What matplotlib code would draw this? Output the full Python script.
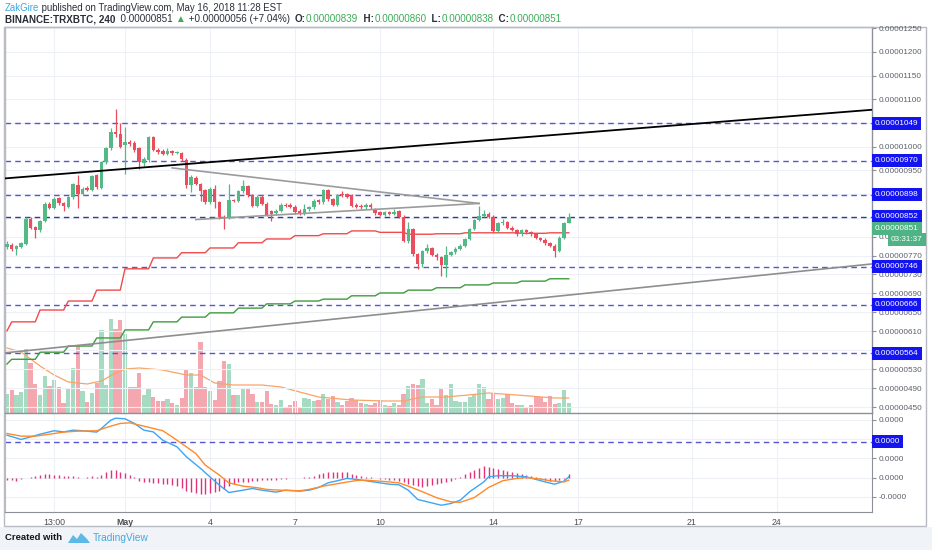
import numpy as np
import pandas as pd
import matplotlib
matplotlib.use("Agg")
import matplotlib.pyplot as plt
import matplotlib.dates as mdates
import matplotlib.transforms as mtransforms
from matplotlib.patches import Polygon, Rectangle

# ---------------- data (prices in satoshi, 1 sat = 1e-8 BTC) ----------------
candle_start = "2018-04-26 20:00"   # 4h candles
opens = [787,793,784,787,794,847,830,823,842,879, 871,891,880,873,893,918,900,913,909,939,
         913,967,996,1030,1027,1003,1010,1008,996,965, 972,1020,993,991,985,991,987,986,972,918,
         934,921,908,882,911,882,851,851,887,885, 906,916,897,875,894,879,863,859,865,877,
         877,873,865,859,868,872,887,882,908,889, 877,899,899,897,877,875,872,877,868,861,
         856,861,858,863,852,801,826,773,752,779, 786,772,766,750,772,777,784,791,805,826,
         845,854,858,852,822,838,840,829,824,815, 824,819,815,807,803,796,791,780,808,839]
closes = [794,784,790,796,847,828,824,842,879,871, 890,880,875,893,920,900,911,909,937,914,
          967,996,1031,1026,1000,1010,1006,992,967,974, 1020,993,989,985,991,986,988,974,918,936,
          921,907,882,911,882,851,850,887,885,906, 916,897,875,894,879,856,858,865,877,875,
          873,861,859,868,872,886,882,908,889,877, 897,897,894,875,873,872,877,872,859,856,
          861,858,862,852,801,826,773,752,779,786, 772,766,750,772,777,784,791,805,826,845,
          854,858,852,822,838,840,829,824,815,824, 819,815,807,803,796,791,780,808,838,851]
highs = [801,796,793,799,851,852,833,845,882,884, 893,894,883,896,923,941,914,916,940,942,
         970,999,1040,1080,1049,1042,1014,1011,999,978, 1023,1022,996,994,998,993,990,988,975,939,
         937,924,910,914,918,885,855,921,890,909, 930,919,900,897,897,882,866,868,880,880,
         880,876,868,878,875,889,890,911,911,892, 900,906,902,900,880,878,880,880,871,864,
         864,864,868,866,855,840,829,776,782,795, 789,775,769,790,780,787,794,808,829,848,
         875,866,861,855,841,848,843,832,827,827, 827,822,818,810,806,799,794,811,841,860]
lows = [784,780,772,785,792,825,808,820,840,868, 869,877,865,870,890,871,897,906,906,911,
        910,964,993,1020,996,943,1002,988,953,960, 968,990,985,982,983,983,984,970,912,905,
        918,886,878,879,870,847,826,848,882,882, 903,894,872,872,876,853,842,856,862,872,
        870,858,856,856,865,869,879,879,886,874, 874,894,891,872,870,869,869,869,856,853,
        853,855,855,849,798,797,768,741,745,776, 769,760,727,725,769,774,781,788,802,823,
        842,851,849,819,819,835,826,821,812,812, 816,812,804,800,793,788,766,777,805,838]
volumes = [19,23,18,21,64,50,29,18,37,27, 33,26,10,24,45,67,22,11,20,30,
           83,28,94,84,93,79,26,26,40,18, 25,16,12,12,14,10,8,15,44,40,
           26,71,26,22,13,32,52,49,18,18, 25,25,19,11,11,22,9,8,13,6,
           8,12,6,15,14,12,13,19,14,17, 11,8,12,15,13,10,9,8,10,13,
           8,7,10,8,19,27,29,28,34,10, 14,8,24,18,29,12,11,11,16,18,
           29,26,14,19,14,15,19,10,8,8, 6,8,16,16,11,17,9,10,23,10]
vol_ma_idx = [0,3,7,10,13,17,20,23,25,28,33,38,41,44,48,54,58,62,66,73,80,84,88,93,100,102,108,116,119]
vol_ma_val = [65,61,47,38,31,29,32,40,44,45,43,38,38,30,28,28,26,21,16,13,12,12,16,16,19,20,18,15,15]

day_start = "2018-04-26"   # daily step indicators, Apr 26 .. May 16
red_daily = [611,630,655,674,697,742,765,776,786,797,805,812,816,822,819,815,816,818,818,817,818]
green_daily = [541,551,566,579,596,613,630,640,649,659,668,674,678,685,691,697,702,708,712,716,721]

levels = [1049, 970, 898, 852, 746, 666, 564]
black_line_t = ["2018-04-27 00:00", "2018-05-27 00:00"]; black_line_p = [934, 1076]
gray_line_t = ["2018-04-27 00:00", "2018-05-27 00:00"]; gray_line_p = [566, 750]
tri_up_t = ["2018-05-02 16:00", "2018-05-13 12:00"]; tri_up_p = [955, 880]
tri_lo_t = ["2018-05-03 12:00", "2018-05-13 12:00"]; tri_lo_p = [846, 880]

# MACD (units of 1e-7)
macd_idx = [0,3,5,7,10,12,14,16,19,20,22,23,25,27,29,31,33,36,38,41,43,45,47,50,52,54,57,59,62,64,
            66,68,70,72,74,76,79,81,83,85,87,89,92,94,96,98,101,102,104,107,110,112,114,116,118,119]
macd_val = [2.20,1.98,2.11,2.25,2.43,2.37,2.46,2.43,2.36,2.55,2.98,3.08,3.05,2.81,2.46,2.37,1.94,1.60,1.08,0.48,
            0.04,-0.39,-0.77,-0.65,-0.56,-0.65,-0.75,-0.65,-0.70,-0.65,-0.51,-0.27,-0.16,-0.04,-0.09,-0.16,-0.27,-0.34,-0.37,-0.65,
            -1.13,-1.25,-1.43,-1.34,-1.17,-0.73,-0.22,0.04,0.10,0.10,0.04,-0.09,-0.22,-0.34,-0.18,0.04]
sig_idx = [0,3,6,9,12,15,19,22,24,26,29,33,35,37,40,42,45,47,50,53,55,58,62,64,67,71,74,76,80,83,
           85,88,91,94,96,99,102,105,108,110,113,115,118,119]
sig_val = [2.29,2.15,2.15,2.25,2.36,2.41,2.43,2.67,2.81,2.84,2.67,2.43,2.11,1.77,1.25,0.65,0.13,-0.27,-0.44,-0.52,
           -0.61,-0.65,-0.68,-0.61,-0.44,-0.27,-0.15,-0.13,-0.20,-0.27,-0.44,-0.73,-1.04,-1.25,-1.28,-1.03,-0.51,-0.16,-0.04,0.0,
           -0.07,-0.16,-0.22,-0.13]
hist_val = [-0.1,-0.1,-0.15,-0.05,0,0.05,0.1,0.15,0.2,0.2, 0.15,0.12,0.1,0.1,0.1,0.05,0,0.05,0.1,0.05,
            0.15,0.3,0.4,0.4,0.3,0.25,0.15,0.05,-0.15,-0.25, -0.2,-0.3,-0.3,-0.35,-0.35,-0.4,-0.45,-0.55,-0.7,-0.75,
            -0.8,-0.85,-0.85,-0.8,-0.75,-0.7,-0.6,-0.45,-0.35,-0.25, -0.2,-0.2,-0.15,-0.15,-0.1,-0.1,-0.1,-0.1,-0.05,-0.05,
            0,0,0,0.02,0.05,0.1,0.2,0.25,0.3,0.3, 0.3,0.3,0.3,0.2,0.15,0.1,0.05,0.03,0,-0.05,
            -0.05,-0.1,-0.1,-0.15,-0.25,-0.35,-0.4,-0.45,-0.5,-0.45, -0.4,-0.35,-0.3,-0.25,-0.15,-0.05,0.05,0.2,0.3,0.4,
            0.5,0.6,0.55,0.5,0.45,0.4,0.35,0.3,0.25,0.2, 0.15,0.1,0.05,-0.05,-0.1,-0.15,-0.15,-0.1,-0.05,0.2]
macd_hline = 1.865

price_ticks = [1250,1200,1150,1100,1050,1000,950,900,850,810,770,730,690,650,610,570,530,490,450]
hidden_price_ticks = [1050, 900, 850, 570]   # labels covered by level boxes
macd_ticks = [-1, 0, 1, 2, 3]
macd_tick_labels = ["-0.0000", "0.0000", "0.0000", "", "0.0000"]
x_tick_dates = ["2018-04-28 12:00", "2018-05-01", "2018-05-04", "2018-05-07", "2018-05-10",
                "2018-05-14", "2018-05-17", "2018-05-21", "2018-05-24"]
x_tick_labels = ["13:00", "May", "4", "7", "10", "14", "17", "21", "24"]

# ---------------- figure ----------------
W, H, DPI = 932, 550, 100
fig = plt.figure(figsize=(W / DPI, H / DPI), dpi=DPI)
fig.patch.set_facecolor("white")
FONT = ["Liberation Sans", "DejaVu Sans"]
plt.rcParams["font.family"] = FONT

def fx(px): return px / W
def fy(py): return 1 - py / H

SAT = 1e-8
M7 = 1e-7
UP, DN = "#53b987", "#eb4d5c"
GRID = "#edf0f4"
AX_C = "#8d9098"

# footer / frame
fig.patches.append(Rectangle((0, 0), 1, fy(527), transform=fig.transFigure, fc="#f0f3f7", ec="none", zorder=-5))
fig.patches.append(Rectangle((fx(4), fy(526)), fx(926) - fx(4), fy(27) - fy(526), transform=fig.transFigure,
                             fc="none", ec="#b8bbc2", lw=1, zorder=-4))

ax = fig.add_axes([fx(5), fy(413), fx(872) - fx(5), fy(27) - fy(413)])
axm = fig.add_axes([fx(5), fy(512), fx(872) - fx(5), fy(413) - fy(512)], sharex=ax)
axv = ax.twinx()
axv.set_zorder(1)
ax.set_zorder(2)
axm.set_zorder(1)
ax.patch.set_visible(False)

times = pd.date_range(candle_start, periods=len(opens), freq="4h")
t = mdates.date2num(times.to_pydatetime())
O = np.array(opens) * SAT; C = np.array(closes) * SAT
Hh = np.array(highs) * SAT; L = np.array(lows) * SAT
up = C >= O
cols = np.where(up, UP, DN)

may1 = mdates.date2num(pd.Timestamp("2018-05-01").to_pydatetime())
ax.set_xlim(may1 - 4.236, may1 + 26.37)
ax.set_ylim(437.6 * SAT, 1252.5 * SAT)

# volume
vcols = np.where(up, "#a6dbc2", "#f5a7af")
axv.bar(t, volumes, width=0.15, color=vcols, linewidth=0)
axv.plot(t[vol_ma_idx], vol_ma_val, color="#f7a46a", lw=0.9)
axv.set_ylim(0, 386)
axv.set_yticks([])
for s in axv.spines.values():
    s.set_visible(False)

# step indicators
days = pd.date_range(day_start, periods=len(red_daily), freq="D")
day_of_candle = times.normalize()
red_series = pd.Series(red_daily, index=days).reindex(day_of_candle).values * SAT
green_series = pd.Series(green_daily, index=days).reindex(day_of_candle).values * SAT
ax.plot(t, red_series, color="#f04b4b", lw=1.0, zorder=3)
ax.plot(t, green_series, color="#3f9c3f", lw=1.0, zorder=3)

# candles
ax.vlines(t, L, Hh, colors=cols, lw=0.9, zorder=4)
body_h = np.maximum(np.abs(C - O), 1.2 * SAT)
ax.bar(t, body_h, bottom=np.minimum(O, C), width=0.125, color=cols, linewidth=0, zorder=5)

# horizontal levels
for p in levels:
    ax.axhline(p * SAT, color="#303c9c" if p == 852 else "#5555d6", lw=1.0, ls=(0, (4, 3)), zorder=2)

# trend lines
def dn(s): return mdates.date2num(pd.Timestamp(s).to_pydatetime())
ax.axline((dn(black_line_t[0]), black_line_p[0] * SAT), (dn(black_line_t[1]), black_line_p[1] * SAT),
          color="black", lw=1.3, zorder=6)
ax.axline((dn(gray_line_t[0]), gray_line_p[0] * SAT), (dn(gray_line_t[1]), gray_line_p[1] * SAT),
          color="#8e8e8e", lw=1.2, zorder=6)
ax.plot([dn(s) for s in tri_up_t], np.array(tri_up_p) * SAT, color="#9b9b9b", lw=1.2, zorder=6)
ax.plot([dn(s) for s in tri_lo_t], np.array(tri_lo_p) * SAT, color="#9b9b9b", lw=1.2, zorder=6)

# axes styling main
ax.yaxis.tick_right()
ax.set_yticks(np.array(price_ticks) * SAT)
ax.set_yticklabels(["" if p in hidden_price_ticks else f"{p * SAT:.8f}" for p in price_ticks])
ax.tick_params(axis="y", labelsize=5.9, colors="#5d606b", length=3, width=0.8, pad=2)
ax.tick_params(axis="y", color=AX_C)
ax.tick_params(axis="x", labelbottom=False, length=0)
ax.grid(True, color=GRID, lw=0.8)
ax.set_axisbelow(True)
for k, s in ax.spines.items():
    s.set_color(AX_C if k in ("right", "bottom") else "#b8bbc2")
    s.set_linewidth(1.0)

# MACD pane
axm.vlines(t, 0, np.array(hist_val) * M7, colors="#e0317a", lw=1.0, zorder=3)
axm.plot(t[macd_idx], np.array(macd_val) * M7, color="#3fa5f2", lw=1.0, zorder=4)
axm.plot(t[sig_idx], np.array(sig_val) * M7, color="#ff8a2c", lw=1.0, zorder=4)
axm.axhline(macd_hline * M7, color="#5555d6", lw=1.0, ls=(0, (4, 3)), zorder=2)
axm.set_ylim(-1.78 * M7, 3.35 * M7)
axm.yaxis.tick_right()
axm.set_yticks(np.array(macd_ticks) * M7)
axm.set_yticklabels(macd_tick_labels)
axm.tick_params(axis="y", labelsize=5.9, colors="#5d606b", length=3, width=0.8, pad=2)
axm.tick_params(axis="y", color=AX_C)
axm.set_xticks([dn(s) for s in x_tick_dates])
axm.set_xticklabels(x_tick_labels)
axm.tick_params(axis="x", labelsize=6.3, colors="#4a4d55", length=0, pad=4)
axm.get_xticklabels()[1].set_fontweight("bold")
axm.grid(True, color=GRID, lw=0.8)
axm.set_axisbelow(True)
axm.spines["top"].set_visible(False)
for k in ("right", "bottom"):
    axm.spines[k].set_color(AX_C)
axm.spines["left"].set_color("#b8bbc2")

# price labels on axis
bt = mtransforms.blended_transform_factory(ax.transAxes, ax.transData)
def plabel(a, trans, y, text, fc, dy_px=0, dx_px=3, size=5.9, pad=0.36):
    a.annotate(text, xy=(1, y), xycoords=trans, xytext=(dx_px * 0.72, dy_px * 0.72), textcoords="offset points",
               ha="left", va="center", fontsize=size, color="white", zorder=20, annotation_clip=False,
               bbox=dict(boxstyle=f"square,pad={pad}", fc=fc, ec="none"))
for p in levels:
    plabel(ax, bt, p * SAT, f"{p * SAT:.8f}", "#1414f0")
plabel(ax, bt, 851 * SAT, "0.00000851", "#4fb385", dy_px=-11)
plabel(ax, bt, 851 * SAT, "03:31:37", "#4fb385", dy_px=-22, dx_px=19)
btm = mtransforms.blended_transform_factory(axm.transAxes, axm.transData)
plabel(axm, btm, macd_hline * M7, "0.0000", "#1414f0")

# header
renderer = fig.canvas.get_renderer()
def runs(x0, y0, parts, size, target_w):
    def lay(sz):
        x = x0; arts = []
        for s, c, w in parts:
            tt = fig.text(fx(x), fy(y0), s, color=c, fontsize=sz, fontweight=w, family=FONT,
                          ha="left", va="center")
            x += tt.get_window_extent(renderer).width
            arts.append(tt)
        return x - x0, arts
    wdt, arts = lay(size)
    for a in arts:
        a.remove()
    lay(size * target_w / wdt)

DK = "#2a2e39"; GR = "#3cab58"
runs(5, 8, [("ZakGire", "#3aa6e0", "normal"),
            (" published on TradingView.com, May 16, 2018 11:28 EST", DK, "normal")], 7, 277)
runs(5, 19, [("BINANCE:TRXBTC, 240", DK, "bold"), ("  0.00000851 ", DK, "normal"), ("▲", GR, "normal"),
             (" +0.00000056 (+7.04%)  ", DK, "normal"),
             ("O:", DK, "bold"), ("0.00000839", GR, "normal"), ("  H:", DK, "bold"), ("0.00000860", GR, "normal"),
             ("  L:", DK, "bold"), ("0.00000838", GR, "normal"), ("  C:", DK, "bold"), ("0.00000851", GR, "normal")],
     7, 557)

# footer
fig.text(fx(5), fy(538), "Created with", fontsize=6.8, fontweight="bold", color="#131722", va="center", ha="left")
logo = Polygon([[fx(68), fy(543)], [fx(73), fy(535)], [fx(77), fy(539)], [fx(81), fy(533)],
                [fx(87), fy(539)], [fx(90), fy(543)]], closed=True, transform=fig.transFigure,
               fc="#5cb8e6", ec="none")
fig.patches.append(logo)
fig.text(fx(93), fy(538), "TradingView", fontsize=7.3, color="#45a9dc", va="center", ha="left")

fig.savefig("out.png", dpi=DPI)
